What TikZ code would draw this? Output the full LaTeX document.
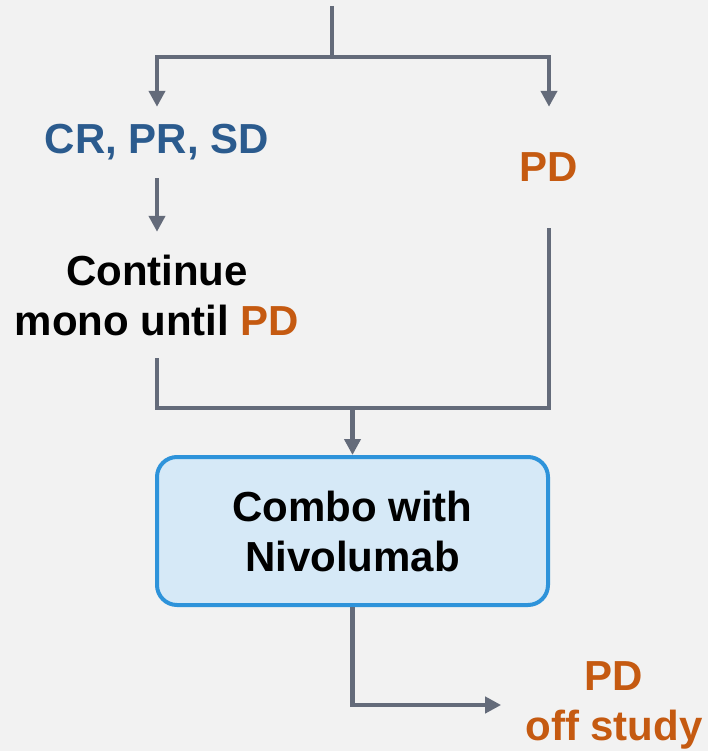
\documentclass[tikz,border=0pt]{standalone}
\usepackage{fontspec}
\setmainfont{Liberation Sans}
\usetikzlibrary{arrows.meta}
\definecolor{fond}{HTML}{F2F2F2}
\definecolor{trait}{HTML}{646B7A}
\definecolor{cadre}{HTML}{2E93DA}
\definecolor{remplissage}{HTML}{D6E9F7}
\definecolor{bleupd}{HTML}{2B5B8E}
\definecolor{orangepd}{HTML}{C55A11}

\begin{document}
\begin{tikzpicture}[x=1pt, y=-1pt,
    txt/.style={font=\fontsize{42}{50}\selectfont\bfseries, align=center, inner sep=0pt},
    line/.style={line width=4.3pt, draw=trait},
    flow/.style={line, -{Triangle[width=16pt,length=16pt]}},
    box/.style={txt, rectangle, rounded corners=20pt, draw=cadre, fill=remplissage, line width=4pt, minimum width=391pt, minimum height=148pt}
]

% Fond
\fill[fond] (0,0) rectangle (708,751);
\useasboundingbox (0,0) rectangle (708,751);

% Noeuds
\coordinate (top) at (332,6);
\coordinate (split) at (332,57);
\node[txt, text=bleupd, minimum height=71pt] (resp) at (157,142.5) {CR, PR, SD};
\node[txt, text=orangepd, minimum height=121pt] (pd) at (549,167.5) {PD};
\node[txt, minimum height=126pt] (cont) at (157,295) {Continue\\mono until \textcolor{orangepd}{PD}};
\coordinate (join) at (352.5,408);
\node[box] (combo) at (352.5,531) {Combo with\\Nivolumab};
\node[txt, text=orangepd, inner xsep=24pt] (off) at (614,705) {PD\\off study};

% Fleches
\draw[line] (top) -- (split);
\draw[flow] (split) -| (resp);
\draw[flow] (split) -| (pd);
\draw[flow] (resp) -- (cont);
\draw[line] (cont.south) |- (join) -| (pd.south);
\draw[flow] (join) -- (combo);
\draw[flow] (combo.south) |- (off);

\end{tikzpicture}
\end{document}
